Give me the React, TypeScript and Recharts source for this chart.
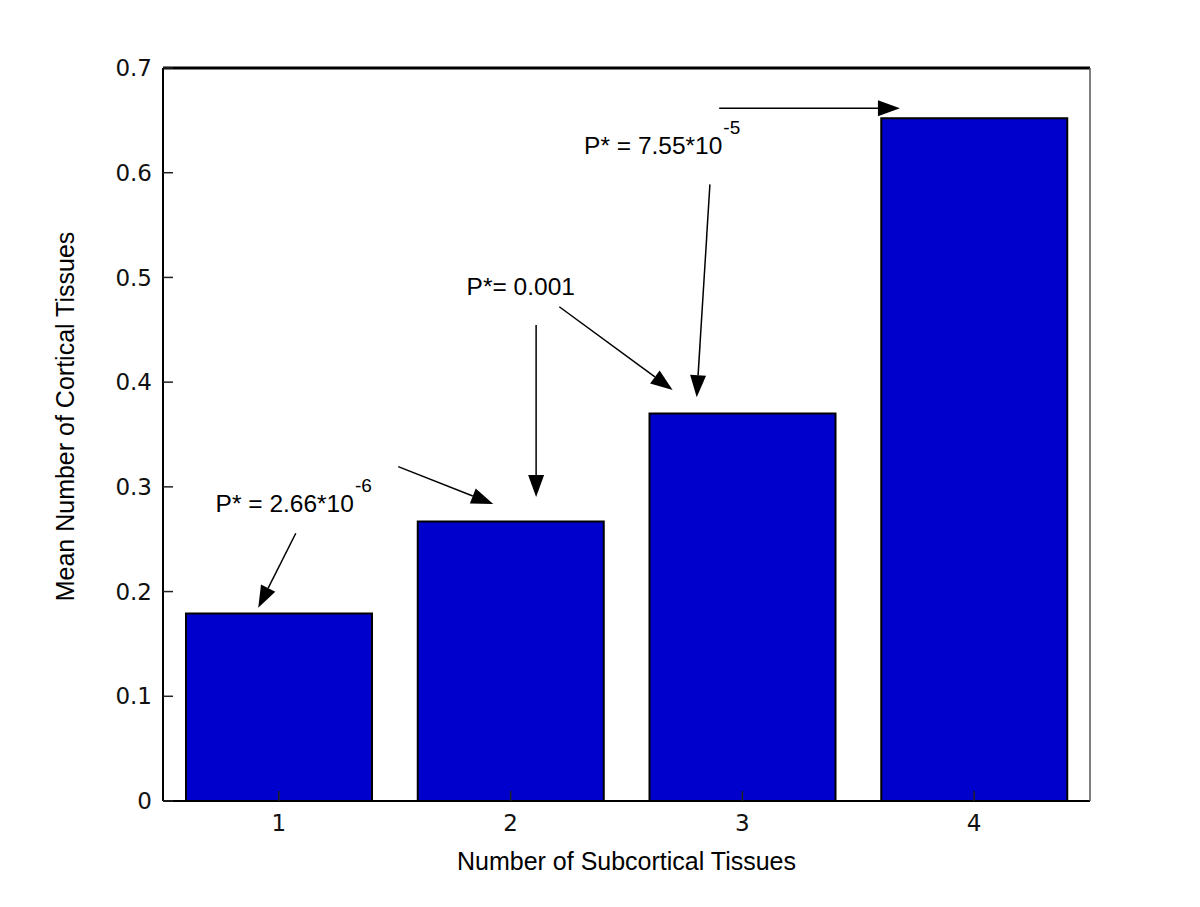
import React from 'react';
import { ComposedChart, Bar, XAxis, YAxis, ReferenceLine, ReferenceDot, Label } from 'recharts';

const categories = [1, 2, 3, 4];
const meanCortical = [0.179, 0.267, 0.370, 0.652];
const yTicks = [0, 0.1, 0.2, 0.3, 0.4, 0.5, 0.6, 0.7];

const annotationTexts = ['P* = 2.66*10', 'P*= 0.001', 'P* = 7.55*10'];
const annotationExponents = ['-6', '', '-5'];
const annotationX = [0.727, 1.81, 2.317];
const annotationY = [0.2763, 0.4832, 0.6179];

const arrowX1 = [1.073, 1.515, 2.11, 2.21, 2.86, 2.9];
const arrowY1 = [0.2557, 0.3193, 0.4546, 0.472, 0.5889, 0.6615];
const arrowX2 = [0.911, 1.925, 2.11, 2.699, 2.803, 3.68];
const arrowY2 = [0.1846, 0.2836, 0.2903, 0.3925, 0.3855, 0.6615];

const data = categories.map((c, i) => ({ x: c, value: meanCortical[i] }));

const TEXT_FONT = '"Liberation Sans", Arial, Helvetica, sans-serif';
const TICK_FONT = '"DejaVu Sans", sans-serif';

const ArrowShape = (props: any) => {
  const { x1, y1, x2, y2 } = props;
  const dx = x2 - x1;
  const dy = y2 - y1;
  const len = Math.hypot(dx, dy) || 1;
  const ux = dx / len;
  const uy = dy / len;
  const hl = 22;
  const hw = 8;
  const bx = x2 - ux * hl;
  const by = y2 - uy * hl;
  const p1 = `${bx - uy * hw},${by + ux * hw}`;
  const p2 = `${bx + uy * hw},${by - ux * hw}`;
  return (
    <g>
      <line x1={x1} y1={y1} x2={bx} y2={by} stroke="#000" strokeWidth={1.5} />
      <polygon points={`${x2},${y2} ${p1} ${p2}`} fill="#000" />
    </g>
  );
};

const makeTextShape = (label: string, exp: string) => (props: any) => (
  <text x={props.cx} y={props.cy} fontFamily={TEXT_FONT} fontSize={24.5} fill="#000">
    {label}
    {exp ? (
      <tspan dy={-20} dx={1} fontSize={19}>
        {exp}
      </tspan>
    ) : null}
  </text>
);

const YTitle = (props: any) => {
  const vb = props.viewBox || {};
  const cx = vb.x + 37;
  const cy = vb.y + vb.height / 2 - 18;
  return (
    <text
      x={cx}
      y={cy}
      transform={`rotate(-90, ${cx}, ${cy})`}
      textAnchor="middle"
      dominantBaseline="central"
      fontFamily={TEXT_FONT}
      fontSize={25}
      fill="#000"
    >
      Mean Number of Cortical Tissues
    </text>
  );
};

export default function App() {
  return (
    <ComposedChart
      width={1184}
      height={891}
      data={data}
      margin={{ top: 50, right: 92, bottom: 29, left: 20 }}
    >
      <XAxis
        type="number"
        dataKey="x"
        domain={[0.5, 4.5]}
        ticks={categories}
        interval={0}
        allowDataOverflow
        height={69}
        tickSize={-10}
        tickMargin={24}
        axisLine={{ stroke: '#000', strokeWidth: 2 }}
        tickLine={{ stroke: '#222', strokeWidth: 1.5 }}
        tick={{ fontFamily: TICK_FONT, fontSize: 23, fill: '#111' }}
      >
        <Label
          value="Number of Subcortical Tissues"
          position="insideBottom"
          offset={0}
          style={{ fontFamily: TEXT_FONT, fontSize: 25, fill: '#000' }}
        />
      </XAxis>
      <XAxis
        xAxisId="top"
        orientation="top"
        type="number"
        domain={[0.5, 4.5]}
        ticks={categories}
        interval={0}
        allowDataOverflow
        height={10}
        tickSize={-10}
        tick={false}
        axisLine={{ stroke: '#000', strokeWidth: 3 }}
        tickLine={{ stroke: '#222', strokeWidth: 1.5 }}
      />
      <YAxis
        type="number"
        domain={[0, 0.7]}
        ticks={yTicks}
        interval={0}
        allowDataOverflow
        width={135}
        tickSize={-10}
        tickMargin={21}
        axisLine={{ stroke: '#000', strokeWidth: 2 }}
        tickLine={{ stroke: '#222', strokeWidth: 1.5 }}
        tick={{ fontFamily: TICK_FONT, fontSize: 23, fill: '#111' }}
        label={<YTitle />}
      />
      <YAxis
        yAxisId="right"
        orientation="right"
        type="number"
        domain={[0, 0.7]}
        ticks={yTicks}
        interval={0}
        allowDataOverflow
        width={10}
        tickSize={-10}
        tick={false}
        axisLine={{ stroke: '#555', strokeWidth: 1.5 }}
        tickLine={{ stroke: '#222', strokeWidth: 1.5 }}
      />
      <Bar
        dataKey="value"
        fill="#0000CC"
        stroke="#000"
        strokeWidth={2}
        barSize={186}
        isAnimationActive={false}
      />
      {arrowX1.map((x, i) => (
        <ReferenceLine
          key={`arrow-${i}`}
          segment={[
            { x, y: arrowY1[i] },
            { x: arrowX2[i], y: arrowY2[i] },
          ]}
          ifOverflow="visible"
          shape={ArrowShape}
        />
      ))}
      {annotationTexts.map((t, i) => (
        <ReferenceDot
          key={`txt-${i}`}
          x={annotationX[i]}
          y={annotationY[i]}
          r={0}
          ifOverflow="visible"
          shape={makeTextShape(t, annotationExponents[i])}
        />
      ))}
    </ComposedChart>
  );
}
